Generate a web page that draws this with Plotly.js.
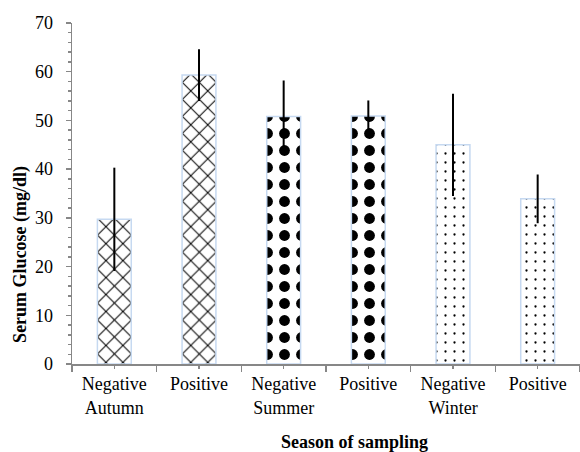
<!DOCTYPE html>
<html>
<head>
<meta charset="utf-8">
<script src="https://cdn.plot.ly/plotly-3.0.1.min.js"></script>
<style>html,body{margin:0;padding:0;background:#fff;}#chart{width:580px;height:452px;}</style>
</head>
<body>
<div id="chart"></div>
<script>
var categoryLabels = ["Negative<br>Autumn", "Positive", "Negative<br>Summer", "Positive", "Negative<br>Winter", "Positive"];
var positions = [0, 1, 2, 3, 4, 5];
var glucoseMean = [29.7, 59.3, 50.8, 50.9, 45.0, 33.9];
var glucoseError = [10.6, 5.3, 7.4, 3.2, 10.5, 5.0];
var patternShapes = ["x", "x", ".", ".", ".", "."];
var patternSizes = [12, 12, 17, 17, 9, 9];
var patternSolidity = [0.16, 0.16, 0.32, 0.32, 0.05, 0.05];

var axisGray = "#878787";
var serif = "Liberation Serif, Times New Roman, serif";

var data = [{
  type: "bar",
  x: positions,
  y: glucoseMean,
  width: 0.4,
  marker: {
    color: "#ffffff",
    line: {color: "#c6d9f1", width: 1.5},
    pattern: {
      shape: patternShapes,
      size: patternSizes,
      solidity: patternSolidity,
      fgcolor: "#000000",
      bgcolor: "#ffffff",
      fillmode: "replace"
    }
  },
  error_y: {type: "data", array: glucoseError, visible: true, color: "#000000", thickness: 2, width: 0},
  hoverinfo: "x+y"
}];

var layout = {
  width: 580,
  height: 452,
  margin: {l: 72, r: 0, t: 23, b: 88},
  paper_bgcolor: "#ffffff",
  plot_bgcolor: "#ffffff",
  showlegend: false,
  font: {family: serif, size: 18, color: "#000000"},
  xaxis: {
    range: [-0.5, 5.5],
    tickmode: "array",
    tickvals: positions,
    ticktext: categoryLabels,
    ticks: "outside",
    ticklen: 3,
    tickwidth: 1.5,
    tickcolor: axisGray,
    showline: true,
    linecolor: axisGray,
    linewidth: 1.5,
    showgrid: false,
    zeroline: false,
    fixedrange: true,
    minor: {tickmode: "linear", tick0: 0.5, dtick: 1, ticks: "outside", ticklen: 6, tickwidth: 1.5, tickcolor: axisGray, showgrid: false},
    tickfont: {family: serif, size: 18, color: "#000000"}
  },
  yaxis: {
    range: [0, 70],
    tickmode: "linear",
    tick0: 0,
    dtick: 10,
    ticks: "outside",
    ticklen: 5,
    tickwidth: 1.5,
    tickcolor: axisGray,
    showline: true,
    linecolor: axisGray,
    linewidth: 1.5,
    showgrid: false,
    zeroline: false,
    fixedrange: true,
    ticklabelstandoff: 9,
    minor: {tickmode: "linear", tick0: 0, dtick: 2, ticks: "outside", ticklen: 3, tickwidth: 1.5, tickcolor: axisGray, showgrid: false},
    tickfont: {family: serif, size: 18, color: "#000000"}
  },
  annotations: [
    {text: "<b>Season of sampling</b>", xref: "paper", yref: "paper", x: 0.557, y: -0.229, xanchor: "center", yanchor: "middle", showarrow: false, font: {family: serif, size: 18, color: "#000000"}},
    {text: "<b>Serum Glucose (mg/dl)</b>", xref: "paper", yref: "paper", x: 0, xshift: -51, y: 0.32, xanchor: "center", yanchor: "middle", textangle: -90, showarrow: false, font: {family: serif, size: 18, color: "#000000"}}
  ]
};

Plotly.newPlot("chart", data, layout, {displayModeBar: false, staticPlot: true});
</script>
</body>
</html>
